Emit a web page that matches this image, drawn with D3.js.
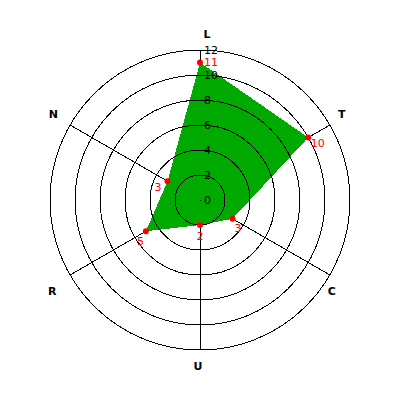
<!DOCTYPE html>
<html>
<head>
<meta charset="utf-8">
<script src="https://cdn.jsdelivr.net/npm/d3@7"></script>
<style>
  body { margin: 0; background: #fff; }
  text { font-family: 'DejaVu Sans', sans-serif; }
</style>
</head>
<body>
<div id="radar"></div>
<script>
const axes = ['L', 'T', 'C', 'U', 'R', 'N']
const values = [11, 10, 3, 2, 5, 3]
const ticks = [0, 2, 4, 6, 8, 10, 12]

const width = 400
const height = 400
const cx = 200
const cy = 200

const svg = d3
  .select('#radar')
  .append('svg')
  .attr('width', width)
  .attr('height', height)

const g = svg.append('g').attr('transform', 'translate(' + cx + ',' + cy + ')')

const rScale = d3.scaleLinear().domain([0, 12]).range([0, 150])

// angle in radians, clockwise from top
const angleScale = d3
  .scaleLinear()
  .domain([0, axes.length])
  .range([0, 2 * Math.PI])

function px(a, r) { return Math.sin(a) * r }
function py(a, r) { return -Math.cos(a) * r }

// spokes
g.selectAll('.spoke')
  .data(axes)
  .enter()
  .append('line')
  .attr('class', 'spoke')
  .attr('x1', 0)
  .attr('y1', 0)
  .attr('x2', (d, i) => px(angleScale(i), rScale(12)))
  .attr('y2', (d, i) => py(angleScale(i), rScale(12)))
  .attr('stroke', 'black')
  .attr('shape-rendering', 'crispEdges')

// filled area
const points = values.map((v, i) => [px(angleScale(i), rScale(v)), py(angleScale(i), rScale(v))])
g.append('path')
  .attr('d', d3.line()(points) + 'Z')
  .attr('fill', '#00aa00')
  .attr('shape-rendering', 'crispEdges')

// rings
g.selectAll('.ring')
  .data(ticks.filter(t => t > 0))
  .enter()
  .append('circle')
  .attr('class', 'ring')
  .attr('r', d => rScale(d))
  .attr('fill', 'none')
  .attr('stroke', 'black')
  .attr('shape-rendering', 'crispEdges')

// center dot
g.append('rect')
  .attr('x', 0)
  .attr('y', 0)
  .attr('width', 1)
  .attr('height', 1)
  .attr('fill', 'black')

// tick labels
g.selectAll('.tick-label')
  .data(ticks)
  .enter()
  .append('text')
  .attr('class', 'tick-label')
  .text(d => d)
  .attr('x', 4)
  .attr('y', d => -rScale(d))
  .attr('dy', '0.35em')
  .attr('font-size', 11)
  .attr('fill', 'black')

// axis titles
g.selectAll('.axis-title')
  .data(axes)
  .enter()
  .append('text')
  .attr('class', 'axis-title')
  .text(d => d)
  .attr('x', (d, i) => px(angleScale(i), 166))
  .attr('y', (d, i) => py(angleScale(i), 166))
  .attr('dx', (d, i) => {
    const sx = px(angleScale(i), 1)
    if (Math.abs(sx) < 0.01) return i === 0 ? 7 : -2
    return py(angleScale(i), 1) > 0 ? (sx > 0 ? -12 : -4) : (sx > 0 ? -2 : -3)
  })
  .attr('dy', (d, i) => {
    const sy = py(angleScale(i), 1)
    if (Math.abs(sy) > 0.99) return '0.35em'
    return sy > 0 ? '1.05em' : '0.1em'
  })
  .attr('text-anchor', 'middle')
  .attr('font-size', 11)
  .attr('font-weight', 'bold')
  .attr('fill', 'black')

// markers
g.selectAll('.marker')
  .data(values)
  .enter()
  .append('circle')
  .attr('class', 'marker')
  .attr('cx', (d, i) => px(angleScale(i), rScale(d)))
  .attr('cy', (d, i) => py(angleScale(i), rScale(d)))
  .attr('r', 3)
  .attr('fill', 'red')

// value labels, pushed off the marker
g.selectAll('.value-label')
  .data(values)
  .enter()
  .append('text')
  .attr('class', 'value-label')
  .text(d => d)
  .attr('x', (d, i) => {
    const a = angleScale(i)
    return px(a, rScale(d)) + px(Math.PI / 2 + a / 2, 11)
  })
  .attr('y', (d, i) => {
    const a = angleScale(i)
    return py(a, rScale(d)) + py(Math.PI / 2 + a / 2, 11)
  })
  .attr('dy', '0.35em')
  .attr('text-anchor', 'middle')
  .attr('font-size', 11)
  .attr('fill', 'red')
</script>
</body>
</html>
